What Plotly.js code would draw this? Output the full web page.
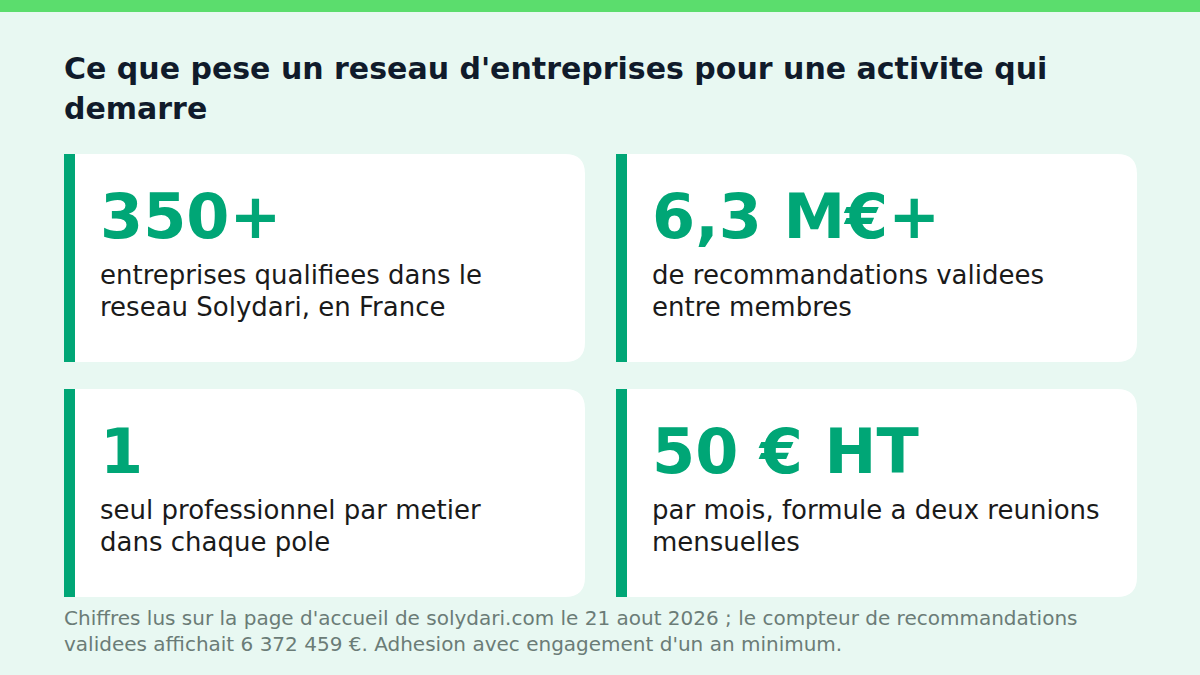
<!DOCTYPE html>
<html>
<head>
<meta charset="utf-8">
<script src="https://cdn.plot.ly/plotly-3.0.1.min.js"></script>
<style>
  html, body { margin: 0; padding: 0; background: #e8f8f2; }
  #chart { width: 1200px; height: 675px; }
</style>
</head>
<body>
<div id="chart"></div>
<script>
var title_lines = ["Ce que pese un reseau d'entreprises pour une activite qui", "demarre"];
var kpi_values = ['350+', '6,3 M€+', '1', '50 € HT'];
var kpi_labels = [
  ['entreprises qualifiees dans le', 'reseau Solydari, en France'],
  ['de recommandations validees', 'entre membres'],
  ['seul professionnel par metier', 'dans chaque pole'],
  ['par mois, formule a deux reunions', 'mensuelles']
];
var footnote_lines = [
  "Chiffres lus sur la page d'accueil de solydari.com le 21 aout 2026 ; le compteur de recommandations",
  "validees affichait 6 372 459 €. Adhesion avec engagement d'un an minimum."
];

var W = 1200, H = 675;
var font = 'DejaVu Sans, Verdana, sans-serif';
var accent = '#00a676';

// card grid
var card_x = [64, 616];
var card_y = [154, 389];
var card_w = 521, card_h = 208, bar_w = 11, r = 20;

var shapes = [];
var annotations = [];

function label(x, y, txt, size, color) {
  annotations.push({
    xref: 'x', yref: 'y', x: x, y: y, xanchor: 'left', yanchor: 'top', align: 'left',
    showarrow: false, text: txt, font: {family: font, size: size, color: color}
  });
}

// top strip
shapes.push({type: 'rect', xref: 'x', yref: 'y', x0: 0, x1: W, y0: 0, y1: 12,
  fillcolor: '#5bdd6d', line: {width: 0}, layer: 'below'});

for (var t = 0; t < title_lines.length; t++) {
  label(62, 49 + t * 40, '<b>' + title_lines[t] + '</b>', 30, '#101b2b');
}

for (var i = 0; i < kpi_values.length; i++) {
  var x0 = card_x[i % 2], y0 = card_y[Math.floor(i / 2)];
  var x1 = x0 + card_w, y1 = y0 + card_h;
  var path = 'M ' + x0 + ' ' + y0 + ' L ' + (x1 - r) + ' ' + y0 +
    ' Q ' + x1 + ' ' + y0 + ' ' + x1 + ' ' + (y0 + r) +
    ' L ' + x1 + ' ' + (y1 - r) +
    ' Q ' + x1 + ' ' + y1 + ' ' + (x1 - r) + ' ' + y1 +
    ' L ' + x0 + ' ' + y1 + ' Z';
  shapes.push({type: 'path', xref: 'x', yref: 'y', path: path,
    fillcolor: '#ffffff', line: {width: 0}, layer: 'below'});
  shapes.push({type: 'rect', xref: 'x', yref: 'y', x0: x0, x1: x0 + bar_w, y0: y0, y1: y1,
    fillcolor: accent, line: {width: 0}, layer: 'below'});

  label(x0 + 34, y0 + 24, '<b>' + kpi_values[i] + '</b>', 62, accent);
  for (var k = 0; k < kpi_labels[i].length; k++) {
    label(x0 + 34, y0 + 104 + k * 32, kpi_labels[i][k], 26, '#1a1a1a');
  }
}

for (var f = 0; f < footnote_lines.length; f++) {
  label(62, 604 + f * 26, footnote_lines[f], 20, '#6b7c77');
}

var layout = {
  width: W, height: H,
  margin: {l: 0, r: 0, t: 0, b: 0},
  paper_bgcolor: '#e8f8f2', plot_bgcolor: '#e8f8f2',
  showlegend: false,
  xaxis: {range: [0, W], visible: false, fixedrange: true},
  yaxis: {range: [H, 0], visible: false, fixedrange: true},
  shapes: shapes,
  annotations: annotations
};

Plotly.newPlot('chart', [], layout, {displaylogo: false, displayModeBar: false, staticPlot: true});
</script>
</body>
</html>
